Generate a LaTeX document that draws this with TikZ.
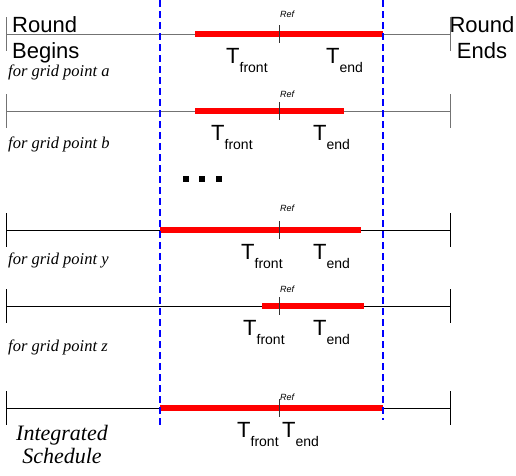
\documentclass[tikz,border=0pt]{standalone}
\usepackage{fontspec}
\setmainfont{Liberation Serif}
\setsansfont{Liberation Sans}
\usetikzlibrary{positioning}

\newcommand{\Tsub}[1]{T\raisebox{-9pt}{\fontsize{14}{14}\selectfont #1}}

\begin{document}
\begin{tikzpicture}[x=1pt,y=-1pt,
	timeline/.style={line width=1pt},
	bar/.style={red, line width=5.5pt},
	window/.style={blue, line width=1.6pt, dash pattern=on 7pt off 4pt},
	tlabel/.style={font=\sffamily\fontsize{22}{22}\selectfont, inner sep=0, anchor=base west},
	reflabel/.style={font=\sffamily\itshape\fontsize{9}{9}\selectfont, inner sep=0, anchor=base west},
	gridlabel/.style={font=\itshape\fontsize{16.5}{16.5}\selectfont, inner sep=0, anchor=base west},
	endlabel/.style={font=\sffamily\fontsize{22}{26}\selectfont, inner sep=0, anchor=base, align=center},
	dotsq/.style={fill=black, inner sep=0, minimum size=6pt}]

	\useasboundingbox (0,0) rectangle (516,475);

	% one time line per grid point, plus the integrated schedule
	\foreach \r/\yy/\lc/\bs/\be/\tf/\te/\tb/\ry in {
		a/34/black!55/195/383/226/326/63/17,
		b/111/black!55/195/344/211/313/140/97,
		y/230/black/160/361/241/313/259/211,
		z/306/black/262/364/243/313/335/292,
		s/408/black/160/383/237/282/437/400}{
		\coordinate (\r-l) at (6,\yy);
		\coordinate (\r-r) at (450,\yy);
		\coordinate (\r-s) at (\bs,\yy);
		\coordinate (\r-e) at (\be,\yy);
		\coordinate (\r-ref) at (279,\yy);
		\draw[timeline,\lc] (\r-l) -- (\r-r);
		\draw[timeline,\lc] ([yshift=17pt]\r-l) -- ([yshift=-17pt]\r-l);
		\draw[timeline,\lc] ([yshift=17pt]\r-r) -- ([yshift=-17pt]\r-r);
		\draw[bar] (\r-s) -- (\r-e);
		\draw[timeline,black!80] ([yshift=9pt]\r-ref) -- ([yshift=-9pt]\r-ref);
		\node[reflabel] (\r-reftxt) at (280,\ry) {Ref};
		\node[tlabel] (\r-front) at (\tf,\tb) {\Tsub{front}};
		\node[tlabel] (\r-end) at (\te,\tb) {\Tsub{end}};
	}

	\node[gridlabel] (a-txt) at (8,76) {for grid point a};
	\node[gridlabel] (b-txt) at (8,148) {for grid point b};
	\node[gridlabel] (y-txt) at (8,264) {for grid point y};
	\node[gridlabel] (z-txt) at (8,351) {for grid point z};

	\node[endlabel, anchor=base west, align=left] (begins) at (12,58) {Round\\Begins};
	\node[endlabel] (ends) at (482,58) {Round\\Ends};
	\node[endlabel, font=\itshape\fontsize{22}{23}\selectfont] (sched) at (62,463) {Integrated\\Schedule};

	\node[dotsq] (dot1) at (186,179) {};
	\node[dotsq, right=10pt of dot1] (dot2) {};
	\node[dotsq, right=10pt of dot2] (dot3) {};

	% scheduling window
	\coordinate (wl-top) at (160,0);
	\coordinate (wl-bot) at (160,428);
	\coordinate (wr-top) at (383,0);
	\coordinate (wr-bot) at (383,420);
	\draw[window] (wl-top) -- (wl-bot);
	\draw[window] (wr-top) -- (wr-bot);

\end{tikzpicture}
\end{document}
